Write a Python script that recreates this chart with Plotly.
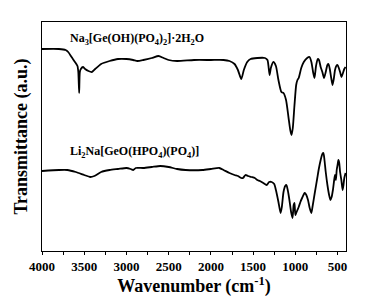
import plotly.graph_objects as go

# Na3[Ge(OH)(PO4)2]·2H2O spectrum (wavenumber, transmittance a.u.)
top_wn = [4000, 3800, 3720, 3690, 3650, 3610, 3580, 3570, 3560, 3552, 3540, 3515, 3490, 3450, 3410,
          3370, 3300, 3200, 3100, 3000, 2920, 2870, 2800, 2700, 2620, 2560, 2500, 2400, 2200, 2000,
          1850, 1780, 1720, 1680, 1640, 1610, 1570, 1530, 1450, 1360, 1330, 1305, 1290, 1260, 1230,
          1200, 1165, 1140, 1110, 1080, 1060, 1045, 1030, 1010, 990, 975, 960, 930, 900, 860,
          832, 810, 790, 773, 755, 735, 720, 700, 680, 660, 640, 620, 607, 590, 575,
          560, 545, 530, 515, 500, 485, 470, 454, 440, 420, 405]
top_px = [49, 49, 50, 52, 57, 62, 66, 72, 93, 72, 69, 67, 69, 71, 72,
          69, 64, 61, 59, 59, 60, 61, 60, 58, 56, 58, 60, 61, 60, 60,
          60, 61, 64, 70, 79, 70, 62, 59, 58, 58, 60, 75, 68, 62, 66,
          80, 92, 93, 100, 118, 130, 135, 128, 105, 85, 80, 78, 68, 62, 58,
          57, 62, 72, 78, 66, 59, 60, 67, 72, 78, 72, 65, 64, 70, 78,
          85, 79, 70, 66, 65, 68, 72, 77, 74, 69, 67]
top_t = [251 - v for v in top_px]

# Li2Na[GeO(HPO4)(PO4)] spectrum
bot_wn = [4000, 3800, 3700, 3600, 3500, 3430, 3380, 3300, 3200, 3100, 3000, 2950, 2920, 2890, 2800,
          2700, 2600, 2500, 2400, 2300, 2100, 2000, 1900, 1850, 1780, 1720, 1680, 1640, 1620, 1590,
          1560, 1520, 1480, 1450, 1420, 1380, 1340, 1310, 1280, 1250, 1230, 1200, 1175, 1160, 1140,
          1120, 1105, 1090, 1070, 1050, 1033, 1020, 1010, 1000, 990, 975, 960, 940, 920, 890,
          870, 850, 830, 810, 795, 770, 740, 720, 700, 680, 667, 655, 640, 620, 600,
          585, 570, 555, 540, 530, 520, 510, 500, 490, 480, 470, 455, 440, 430, 420, 405]
bot_px = [171, 170, 170, 172, 175, 177, 176, 172, 170, 169, 168, 169, 170, 168, 168,
          167, 166, 167, 169, 170, 170, 169, 168, 170, 173, 175, 176, 178, 178, 175,
          176, 177, 178, 180, 181, 183, 185, 182, 182, 184, 190, 202, 213, 207, 192,
          186, 185, 190, 200, 212, 218, 205, 203, 215, 213, 210, 207, 202, 198, 193,
          195, 200, 208, 213, 206, 193, 178, 168, 160, 154, 153, 160, 172, 185, 195,
          200, 197, 190, 180, 175, 180, 170, 165, 160, 163, 172, 180, 190, 185, 178, 173]
bot_t = [251 - v for v in bot_px]

x_ticks = [4000, 3500, 3000, 2500, 2000, 1500, 1000, 500]

serif = "Liberation Serif, Times New Roman, serif"

fig = go.Figure()
for xs, ys in [(top_wn, top_t), (bot_wn, bot_t)]:
    fig.add_trace(go.Scatter(x=xs, y=ys, mode="lines",
                             line=dict(color="black", width=1.8, shape="spline", smoothing=0.6),
                             showlegend=False, hoverinfo="skip"))

# page body has an 8px default margin, so the figure is sized/offset to compensate
fig.update_layout(
    width=373, height=294,
    margin=dict(l=34, r=35, t=14, b=51, autoexpand=False),
    paper_bgcolor="white", plot_bgcolor="white",
    font=dict(family=serif, color="black"),
    xaxis=dict(range=[4000, 400], tickvals=x_ticks, ticktext=["<b>%d</b>" % v for v in x_ticks],
               ticks="outside", ticklen=3, tickwidth=1, tickcolor="black",
               minor=dict(dtick=250, ticks="outside", ticklen=3, tickcolor="black", tick0=0),
               showline=True, linecolor="black", linewidth=1.2, mirror=True,
               showgrid=False, zeroline=False, automargin=False,
               tickfont=dict(family=serif, size=13, color="black"),
               title=dict(text="<b>Wavenumber (cm<sup>-1</sup>)</b>", standoff=0,
                          font=dict(family=serif, size=18, color="black"))),
    yaxis=dict(range=[0, 229], showticklabels=False, ticks="",
               showline=True, linecolor="black", linewidth=1.2, mirror=True,
               showgrid=False, zeroline=False, automargin=False,
               title=dict(text="<b>Transmittance (a.u.)</b>", standoff=8,
                          font=dict(family=serif, size=18, color="black"))),
    annotations=[
        dict(text="<b>Na<sub>3</sub>[Ge(OH)(PO<sub>4</sub>)<sub>2</sub>]·2H<sub>2</sub>O</b>",
             xref="paper", yref="paper", x=0.086, y=0.926, xanchor="left", yanchor="middle",
             showarrow=False, font=dict(family=serif, size=12, color="black")),
        dict(text="<b>Li<sub>2</sub>Na[GeO(HPO<sub>4</sub>)(PO<sub>4</sub>)]</b>",
             xref="paper", yref="paper", x=0.086, y=0.432, xanchor="left", yanchor="middle",
             showarrow=False, font=dict(family=serif, size=12, color="black")),
    ],
)

fig.write_html("out.html")
